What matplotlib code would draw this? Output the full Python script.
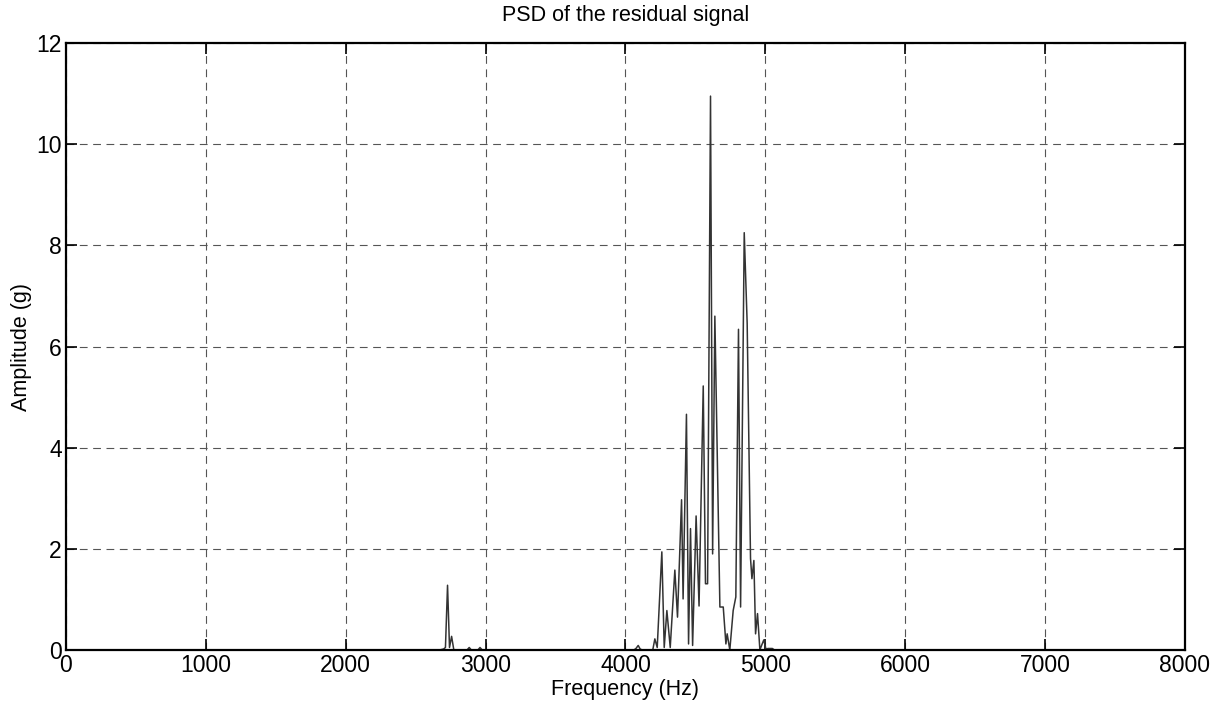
import matplotlib
matplotlib.use("Agg")
import matplotlib.pyplot as plt

freq_hz = [0, 2670, 2700, 2713, 2728, 2742, 2757, 2773, 2867, 2883, 2898, 2945, 2960, 2976,
           4060, 4075, 4091, 4105, 4120, 4195, 4210, 4227, 4260, 4277, 4296, 4320, 4353, 4372,
           4401, 4412, 4436, 4451, 4465, 4480, 4505, 4526, 4556, 4572, 4587, 4608, 4623, 4639,
           4675, 4699, 4718, 4727, 4746, 4770, 4789, 4808, 4823, 4849, 4870, 4894, 4904, 4918,
           4930, 4944, 4961, 4973, 4989, 5004, 5020, 5035, 5050, 5065, 8000]
amplitude_g = [0, 0, 0.02, 0.05, 1.28, 0.05, 0.27, 0, 0, 0.05, 0, 0, 0.05, 0,
               0, 0.03, 0.09, 0.02, 0, 0, 0.22, 0.05, 1.94, 0.05, 0.78, 0.05, 1.58, 0.65,
               2.97, 1.01, 4.66, 0.12, 2.40, 0.09, 2.65, 0.87, 5.22, 1.31, 1.31, 10.95, 1.90, 6.60,
               0.85, 0.85, 0.12, 0.32, 0.0, 0.78, 1.05, 6.34, 0.85, 8.25, 6.46, 1.81, 1.41, 1.77,
               0.32, 0.72, 0.0, 0.09, 0.20, 0.02, 0.03, 0.03, 0.03, 0, 0]

x_ticks = [0, 1000, 2000, 3000, 4000, 5000, 6000, 7000, 8000]
y_ticks = [0, 2, 4, 6, 8, 10, 12]

plt.rcParams['font.family'] = ['Liberation Sans', 'DejaVu Sans']

fig = plt.figure(figsize=(12.19, 7.06), dpi=100)
ax = fig.add_axes([0.0541, 0.0793, 0.9180, 0.8598])

ax.plot(freq_hz, amplitude_g, color='#333333', linewidth=1.1)

ax.set_xlim(0, 8000)
ax.set_ylim(0, 12)
ax.set_xticks(x_ticks)
ax.set_yticks(y_ticks)
ax.tick_params(direction='in', length=8, width=1.2, top=True, right=True,
               labelsize=16.5, pad=3, colors='black')
ax.grid(True, color='#555555', linestyle=(0, (7, 5)), linewidth=0.8)
for s in ax.spines.values():
    s.set_linewidth(1.6)
    s.set_color('black')

ax.set_title('PSD of the residual signal', fontsize=15.5, pad=16)
ax.set_xlabel('Frequency (Hz)', fontsize=15.5, labelpad=1)
ax.set_ylabel('Amplitude (g)', fontsize=15.5, labelpad=3)

fig.savefig('out.png', dpi=100)
